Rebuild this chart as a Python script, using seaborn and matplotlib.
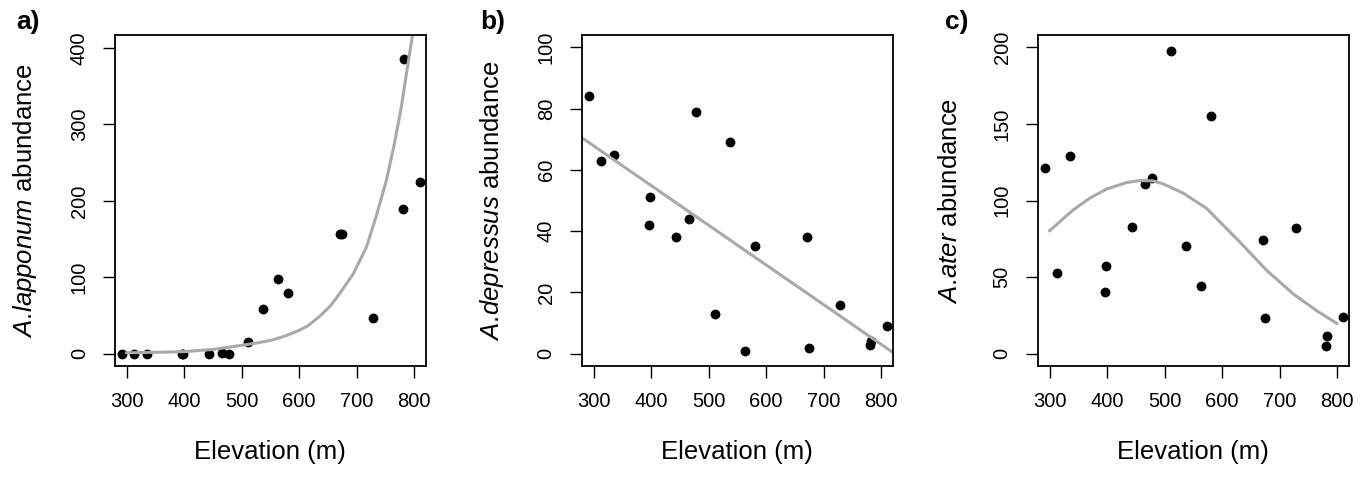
import numpy as np
import pandas as pd
import matplotlib
matplotlib.use("Agg")
import matplotlib.pyplot as plt
import seaborn as sns

# site elevations (m) and species counts
elevation = [293, 313, 336, 397, 399, 444, 466, 478, 512, 538, 563, 581, 671, 674, 728, 780, 782, 811]
lapponum = [0, 0, 0, 0, 0, 0, 1, 0, 15, 59, 98, 79, 157, 157, 47, 190, 385, 225]
depressus = [84, 63, 65, 42, 51, 38, 44, 79, 13, 69, 1, 35, 38, 2, 16, 3, 4, 9]
ater = [121, 53, 129, 40.5, 57.5, 83, 111, 114.5, 197.5, 70, 44.5, 155, 74, 23, 82, 5, 11.5, 24]

# fitted curves
lapp_curve_x = [300, 350, 400, 450, 500, 530, 555, 575, 600, 615, 636, 655, 670, 694, 717, 734,
                752, 766, 778, 788, 797, 800]
lapp_curve_y = [1.3, 1.9, 2.8, 5.6, 11, 14.5, 18.3, 23, 30.5, 36.4, 49, 63, 78, 104, 139, 179,
                227, 275, 323, 372, 415, 430]
ater_curve_x = [300, 341, 370, 399, 434, 457, 480, 498, 533, 573, 600, 631, 678, 724, 765, 800]
ater_curve_y = [80.2, 93.8, 101.5, 107.4, 111.7, 113, 112.8, 110.8, 104.7, 94.9, 84.7, 72.9, 54.3, 39, 28, 19.7]

x_ticks = [300, 400, 500, 600, 700, 800]

data = pd.DataFrame({"elevation": elevation, "lapponum": lapponum,
                     "depressus": depressus, "ater": ater})

sns.set_style("ticks")
plt.rcParams["font.family"] = ["Liberation Sans", "DejaVu Sans"]
plt.rcParams["mathtext.fontset"] = "custom"
plt.rcParams["mathtext.rm"] = "Liberation Sans"
plt.rcParams["mathtext.it"] = "Liberation Sans:italic"
plt.rcParams["text.color"] = "black"
plt.rcParams["axes.labelcolor"] = "black"

W, H = 1360, 496
fig = plt.figure(figsize=(W / 100, H / 100), dpi=100)

curve_col = "#a9a9a9"


def make_axes(left_px):
    return fig.add_axes([left_px / W, (H - 366) / H, 310.5 / W, 331 / H])


def style_axes(ax, yticks, ylim, ylabel, letter, letter_x):
    ax.set_xlim(280, 820)
    ax.set_ylim(*ylim)
    ax.set_xticks(x_ticks)
    ax.set_yticks(yticks)
    for s in ax.spines.values():
        s.set_visible(True)
        s.set_color("black")
        s.set_linewidth(1.3)
    ax.tick_params(direction="out", length=8.4, width=1.0, labelsize=14.5,
                   pad=10.5, colors="black")
    ax.tick_params(axis="y", labelrotation=90)
    for lbl in ax.get_yticklabels():
        lbl.set_va("center")
    ax.set_xlabel("Elevation (m)", fontsize=18.5, color="black")
    ax.xaxis.set_label_coords(0.5, -0.225)
    ax.set_ylabel(ylabel, fontsize=18.5, color="black")
    ax.yaxis.set_label_coords(-0.246, 0.5)
    fig.text(letter_x / W, 1 - 10 / H, letter, fontsize=19, fontweight="bold",
             va="top", ha="left", color="black")


# a) A. lapponum
ax1 = make_axes(115)
sns.scatterplot(data=data, x="elevation", y="lapponum", color="black", s=50,
                linewidth=0, ax=ax1)
sns.lineplot(x=lapp_curve_x, y=lapp_curve_y, color=curve_col, linewidth=2.2, ax=ax1)
style_axes(ax1, [0, 100, 200, 300, 400], (-16, 417),
           r"$\mathit{A.\!lapponum}$ abundance", "a)", 16)

# b) A. depressus
ax2 = make_axes(582)
ax2.set_xlim(280, 820)
sns.scatterplot(data=data, x="elevation", y="depressus", color="black", s=50,
                linewidth=0, ax=ax2)
sns.regplot(data=data, x="elevation", y="depressus", scatter=False, ci=None,
            truncate=False, color=curve_col, line_kws={"linewidth": 2.2}, ax=ax2)
style_axes(ax2, [0, 20, 40, 60, 80, 100], (-4, 104),
           r"$\mathit{A.\!depressus}$ abundance", "b)", 480)

# c) A. ater
ax3 = make_axes(1038)
sns.scatterplot(data=data, x="elevation", y="ater", color="black", s=50,
                linewidth=0, ax=ax3)
sns.lineplot(x=ater_curve_x, y=ater_curve_y, color=curve_col, linewidth=2.2, ax=ax3)
style_axes(ax3, [0, 50, 100, 150, 200], (-8, 208),
           r"$\mathit{A.\!ater}$ abundance", "c)", 945)

fig.savefig("out.png", dpi=100, facecolor="white")
